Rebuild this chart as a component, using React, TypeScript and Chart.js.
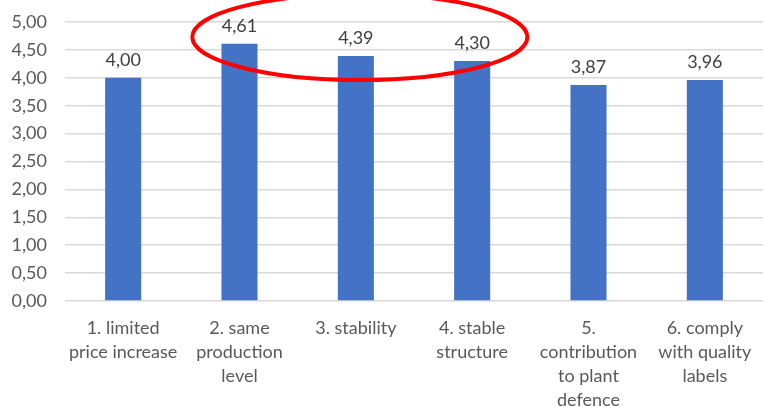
import React, { useEffect, useRef } from "react";
import { Chart, registerables } from "chart.js";

Chart.register(...registerables);

const categories: string[][] = [
  ["1. limited", "price increase"],
  ["2. same", "production", "level"],
  ["3. stability"],
  ["4. stable", "structure"],
  ["5.", "contribution", "to plant", "defence"],
  ["6. comply", "with quality", "labels"],
];
const values: number[] = [4.0, 4.61, 4.39, 4.3, 3.87, 3.96];
const yTicks: number[] = [0, 0.5, 1, 1.5, 2, 2.5, 3, 3.5, 4, 4.5, 5];

const fmt = (v: number) => v.toFixed(2).replace(".", ",");
const FONT = "Lato, 'Open Sans', sans-serif";

const labelPlugin = {
  id: "valueLabels",
  afterDatasetsDraw(chart: any) {
    const ctx = chart.ctx;
    const meta = chart.getDatasetMeta(0);
    ctx.save();
    ctx.font = `18px ${FONT}`;
    ctx.fillStyle = "#404040";
    ctx.textAlign = "center";
    ctx.textBaseline = "bottom";
    meta.data.forEach((bar: any, i: number) => {
      ctx.fillText(fmt(values[i]), bar.x, bar.y - 9);
    });
    ctx.restore();
  },
};

const ellipsePlugin = {
  id: "highlightEllipse",
  afterDraw(chart: any) {
    const x = chart.scales.x;
    const y = chart.scales.y;
    const cx = (x.getPixelForValue(1) + x.getPixelForValue(3)) / 2 + 4;
    const step = x.getPixelForValue(1) - x.getPixelForValue(0);
    const rx = step * 1.44;
    const cy = y.getPixelForValue(4.73);
    const ry = Math.abs(y.getPixelForValue(4.73) - y.getPixelForValue(5.5));
    const ctx = chart.ctx;
    ctx.save();
    ctx.strokeStyle = "#ff0000";
    ctx.lineWidth = 4;
    ctx.beginPath();
    ctx.ellipse(cx, cy, rx, ry, 0, 0, Math.PI * 2);
    ctx.stroke();
    ctx.restore();
  },
};

export default function App() {
  const ref = useRef<HTMLCanvasElement | null>(null);
  useEffect(() => {
    document.body.style.margin = "0";
    if (!ref.current) return;
    const chart = new Chart(ref.current, {
      type: "bar",
      data: {
        labels: categories as any,
        datasets: [
          {
            data: values,
            backgroundColor: "#4472C4",
            categoryPercentage: 1,
            barPercentage: 0.31,
          },
        ],
      },
      options: {
        animation: false,
        responsive: false,
        maintainAspectRatio: false,
        layout: { padding: { top: 22, left: 0, right: 0, bottom: 0 } },
        plugins: { legend: { display: false }, tooltip: { enabled: false } },
        scales: {
          y: {
            min: 0,
            max: 5,
            afterBuildTicks(scale: any) {
              scale.ticks = yTicks.map((v) => ({ value: v }));
            },
            afterFit(scale: any) {
              scale.width = 65;
              scale.paddingTop = 0;
              scale.paddingBottom = 0;
            },
            ticks: {
              callback: (v: any) => fmt(Number(v)),
              font: { family: FONT, size: 18 },
              color: "#595959",
              padding: 18,
            },
            grid: { color: "#d9d9d9", lineWidth: 1.5, drawTicks: false },
            border: { display: false },
          },
          x: {
            afterFit(scale: any) {
              scale.height = 106;
            },
            ticks: {
              autoSkip: false,
              maxRotation: 0,
              minRotation: 0,
              font: { family: FONT, size: 18, lineHeight: 1.33 },
              color: "#595959",
              padding: 7,
            },
            grid: { display: false },
            border: { display: false },
          },
        },
      },
      plugins: [labelPlugin, ellipsePlugin],
    });
    return () => chart.destroy();
  }, []);
  return <canvas ref={ref} width={763} height={407} style={{ display: "block" }} />;
}
